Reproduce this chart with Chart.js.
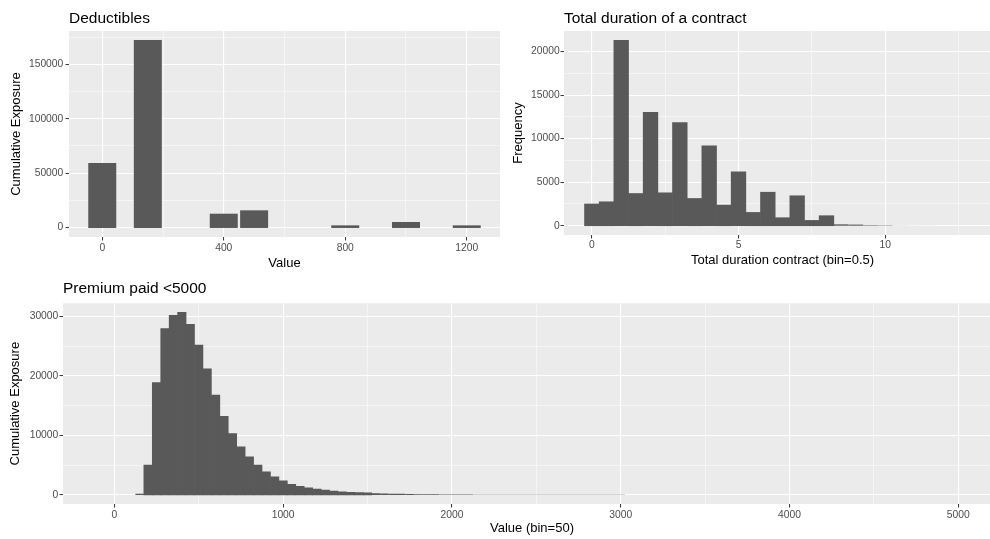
<!DOCTYPE html>
<html>
<head>
<meta charset="utf-8">
<script src="https://cdn.jsdelivr.net/npm/chart.js@4"></script>
<style>
  html, body { margin: 0; padding: 0; background: #ffffff; width: 990px; height: 539px; overflow: hidden; }
  canvas.panel { position: absolute; }
</style>
</head>
<body>
<canvas id="deductibles" class="panel" style="left:0px;top:0px" width="510" height="275"></canvas>
<canvas id="duration" class="panel" style="left:500px;top:0px" width="515" height="275"></canvas>
<canvas id="premium" class="panel" style="left:0px;top:275px" width="1015" height="264"></canvas>
<script>
// ---- Deductibles: cumulative exposure per deductible level ----
const deductibleValues   = [0, 150, 400, 500, 800, 1000, 1200];
const deductibleExposure = [59000, 172000, 12500, 15600, 1800, 4900, 1800];
const deductibleXMajor = [0, 400, 800, 1200];
const deductibleXMinor = [200, 600, 1000];
const deductibleYMajor = [0, 50000, 100000, 150000];
const deductibleYMinor = [25000, 75000, 125000, 175000];

// ---- Total duration of a contract: histogram, bin width 0.5 ----
const durationBins = [0, 0.5, 1, 1.5, 2, 2.5, 3, 3.5, 4, 4.5, 5, 5.5, 6, 6.5, 7, 7.5,
                      8, 8.5, 9, 9.5, 10, 10.5, 11, 11.5, 12, 12.5, 13];
const durationCounts = [2500, 2750, 21300, 3700, 13030, 3780, 11850, 3130, 9180, 2370, 6200, 1530,
                        3850, 920, 3440, 610, 1150, 160, 130, 60, 40, 12, 8, 5, 3, 2, 1];
const durationXMajor = [0, 5, 10];
const durationXMinor = [2.5, 7.5, 12.5];
const durationYMajor = [0, 5000, 10000, 15000, 20000];
const durationYMinor = [2500, 7500, 12500, 17500];

// ---- Premium paid < 5000: histogram, bin width 50 ----
const premiumBins = [150, 200, 250, 300, 350, 400, 450, 500, 550, 600, 650, 700, 750, 800, 850,
                     900, 950, 1000, 1050, 1100, 1150, 1200, 1250, 1300, 1350, 1400, 1450, 1500,
                     1550, 1600, 1650, 1700, 1750, 1800, 1850, 1900, 1950, 2000, 2050, 2100, 2150,
                     2200, 2250, 2300, 2350, 2400, 2450, 2500, 2550, 2600, 2650, 2700, 2750, 2800,
                     2850, 2900, 2950, 3000];
const premiumExposure = [180, 5000, 18900, 28000, 30200, 30700, 28700, 25200, 21200, 16800, 13200,
                         10300, 8100, 6400, 5000, 3860, 3020, 2350, 1790, 1450, 1170, 980, 800, 640,
                         520, 440, 380, 330, 290, 250, 210, 170, 140, 115, 100, 85, 75, 65, 55, 48,
                         42, 36, 30, 26, 22, 19, 16, 14, 12, 10, 9, 8, 7, 6, 5, 4, 3, 3];
const premiumXMajor = [0, 1000, 2000, 3000, 4000, 5000];
const premiumXMinor = [500, 1500, 2500, 3500, 4500];
const premiumYMajor = [0, 10000, 20000, 30000];
const premiumYMinor = [5000, 15000, 25000];

const FONT = '"Liberation Sans", Arial, Helvetica, sans-serif';
const BAR_FILL = '#595959';

// grey panel behind the plotting region
const panelBackground = {
  id: 'panelBackground',
  beforeDraw(chart) {
    const { ctx, chartArea: a } = chart;
    ctx.save();
    ctx.fillStyle = '#EBEBEB';
    ctx.fillRect(a.left, a.top, a.right - a.left, a.bottom - a.top);
    ctx.restore();
  }
};

// left-aligned panel title sitting above the plotting region
const panelTitle = {
  id: 'panelTitle',
  afterDraw(chart, args, opts) {
    const ctx = chart.ctx;
    ctx.save();
    ctx.font = opts.size + 'px ' + FONT;
    ctx.fillStyle = '#000000';
    ctx.textAlign = 'left';
    ctx.textBaseline = 'alphabetic';
    ctx.fillText(opts.text, chart.chartArea.left + (opts.dx || 0), opts.baseline);
    ctx.restore();
  }
};

function axis(cfg) {
  const isMajor = v => cfg.major.includes(v);
  return {
    type: 'linear',
    min: cfg.min,
    max: cfg.max,
    offset: false,
    afterBuildTicks(scale) {
      scale.ticks = cfg.major.concat(cfg.minor).sort((a, b) => a - b).map(v => ({ value: v }));
    },
    afterFit(scale) {
      if (cfg.horizontal) scale.height = cfg.size; else scale.width = cfg.size;
    },
    border: { display: false },
    grid: {
      offset: false,
      drawTicks: true,
      tickLength: 3.5,
      tickWidth: 1,
      color: c => (c.tick && isMajor(c.tick.value)) ? '#FFFFFF' : 'rgba(255,255,255,0.55)',
      lineWidth: c => (c.tick && isMajor(c.tick.value)) ? 1.1 : 0.9,
      tickColor: c => (c.tick && isMajor(c.tick.value)) ? '#333333' : 'rgba(0,0,0,0)'
    },
    ticks: {
      autoSkip: false,
      maxRotation: 0,
      minRotation: 0,
      padding: cfg.tickPad,
      color: '#4D4D4D',
      font: { family: FONT, size: 10.3 },
      callback: v => isMajor(v) ? String(v) : ''
    },
    title: {
      display: true,
      text: cfg.title,
      color: '#000000',
      font: { family: FONT, size: 13 },
      padding: cfg.titlePad
    }
  };
}

function makeChart(id, cfg) {
  return new Chart(document.getElementById(id), {
    type: 'bar',
    data: {
      datasets: [{
        data: cfg.xs.map((x, i) => ({ x: x, y: cfg.ys[i] })),
        backgroundColor: BAR_FILL,
        borderWidth: 0,
        // bars rise straight from zero and paint over the zero grid line
        base: 1e-9,
        // tall bars are widened a hair so neighbours join without seams;
        // very short tail bars stay at their true (sub-pixel) height
        inflateAmount: c => (c.raw && c.raw.y > cfg.inflateAbove) ? 0.33 : 0,
        barPercentage: cfg.barPct,
        categoryPercentage: 1
      }]
    },
    options: {
      responsive: false,
      animation: false,
      events: [],
      layout: { padding: cfg.padding },
      plugins: {
        legend: { display: false },
        tooltip: { enabled: false },
        panelTitle: { text: cfg.title, size: 15.5, baseline: cfg.titleBaseline }
      },
      scales: { x: cfg.x, y: cfg.y }
    },
    plugins: [panelBackground, panelTitle]
  });
}

makeChart('deductibles', {
  xs: deductibleValues, ys: deductibleExposure, barPct: 0.9, inflateAbove: 0,
  title: 'Deductibles', titleBaseline: 22.7,
  padding: { left: 0, top: 31, right: 10, bottom: 0 },
  x: axis({ horizontal: true, size: 38, min: -109.5, max: 1309.5,
            major: deductibleXMajor, minor: deductibleXMinor,
            title: 'Value', tickPad: 1.3, titlePad: { top: 0, bottom: 4.2 } }),
  y: axis({ horizontal: false, size: 69, min: -8600, max: 180600,
            major: deductibleYMajor, minor: deductibleYMinor,
            title: 'Cumulative Exposure', tickPad: 2.2, titlePad: { top: 8.2, bottom: 0 } })
});

makeChart('duration', {
  xs: durationBins, ys: durationCounts, barPct: 1, inflateAbove: 300,
  title: 'Total duration of a contract', titleBaseline: 22.7,
  padding: { left: 0, top: 31, right: 14, bottom: 0 },
  x: axis({ horizontal: true, size: 40, min: -0.95, max: 13.95,
            major: durationXMajor, minor: durationXMinor,
            title: 'Total duration contract (bin=0.5)', tickPad: 0.5, titlePad: { top: 0, bottom: 7.2 } }),
  y: axis({ horizontal: false, size: 64, min: -1065, max: 22365,
            major: durationYMajor, minor: durationYMinor,
            title: 'Frequency', tickPad: 0.8, titlePad: { top: 10.2, bottom: 0 } })
});

makeChart('premium', {
  xs: premiumBins, ys: premiumExposure, barPct: 1, inflateAbove: 300,
  title: 'Premium paid <5000', titleBaseline: 17.7,
  padding: { left: 0, top: 28.3, right: 14, bottom: 0 },
  x: axis({ horizontal: true, size: 35, min: -304, max: 5253,
            major: premiumXMajor, minor: premiumXMinor,
            title: 'Value (bin=50)', tickPad: 1.3, titlePad: { top: 0, bottom: 3.2 } }),
  y: axis({ horizontal: false, size: 63, min: -1535, max: 32235,
            major: premiumYMajor, minor: premiumYMinor,
            title: 'Cumulative Exposure', tickPad: 1.2, titlePad: { top: 7.2, bottom: 0 } })
});
</script>
</body>
</html>
